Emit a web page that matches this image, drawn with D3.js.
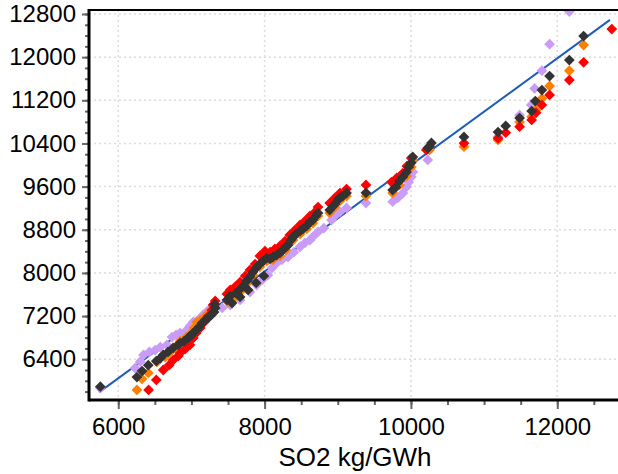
<!DOCTYPE html>
<html><head><meta charset="utf-8">
<script src="https://cdn.jsdelivr.net/npm/d3@7"></script>
<style>body{margin:0;background:#fff}svg{display:block}text{font-family:"Liberation Sans",Arial,sans-serif;fill:#000}</style>
</head><body><svg id="c" width="618" height="474"></svg>
<script>
const xTickLabels = [6000, 8000, 10000, 12000];
const yTickLabels = [6400, 7200, 8000, 8800, 9600, 10400, 11200, 12000, 12800];
const xTitle = "SO2 kg/GWh";
const fitLine = [[5740, 5790], [12720, 12690]];

const lavender = [[5755,5865],[6230,6235],[6300,6355],[6345,6480],[6425,6535],[6505,6570],[6575,6625],[6665,6665],[6735,6810],[6790,6850],[6845,6885],[6935,6940],[6980,7015],[7025,7090],[7120,7165],[7160,7220],[7210,7280],[7255,7330],
[7420,7350],[7530,7405],[7665,7500],[7800,7645],[7890,7775],[7965,7870],[8045,7960],[8100,8090],[8165,8185],[8235,8240],[8320,8295],[8400,8385],[8485,8485],[8550,8555],[8620,8610],[8660,8670],[8730,8760],[8810,8830],[8915,8980],[8975,9075],[9030,9130],[9120,9205],[9385,9295],[9750,9320],[9820,9390],[9890,9480],[9940,9595],[9970,9685],[10005,9785],[10025,9870],[10230,10095],
[11190,10525],[11485,10925],[11645,11115],[11690,11420],[11790,11750],[11895,12240],[12165,12845]];

const orange = [[6255,5830],[6325,6035],[6410,6145],[6530,6350],[6640,6440],[6710,6535],[6780,6625],[6845,6735],[6930,6810],[6980,6865],[7035,6980],[7075,7090],[7120,7125],[7175,7180],[7230,7255],[7280,7330],[7325,7405],
[7500,7460],[7570,7515],[7665,7645],[7755,7795],[7840,7960],[7935,8110],[8030,8220],[8115,8240],[8210,8315],[8290,8425],[8390,8610],[8485,8720],[8575,8815],[8660,8925],[8730,9055],[8890,9110],[8960,9220],[9030,9335],[9120,9425],[9385,9425],[9750,9480],[9845,9630],[9940,9795],[10005,9965],[10025,10095],[10255,10280],
[10725,10340],[11190,10465],[11485,10800],[11650,10895],[11710,11020],[11790,11235],[11895,11465],[12165,11750],[12360,12225]];

const red = [[6415,5830],[6520,6015],[6615,6200],[6695,6290],[6750,6385],[6820,6460],[6845,6515],[6915,6590],[6980,6665],[7025,6795],[7065,6885],[7120,6980],[7175,7090],[7230,7200],[7280,7310],[7295,7405],[7325,7480],
[7485,7610],[7530,7685],[7595,7740],[7665,7830],[7735,7945],[7800,8055],[7870,8165],[7935,8315],[8005,8405],[8075,8385],[8140,8445],[8210,8500],[8280,8590],[8345,8705],[8415,8795],[8485,8890],[8550,8960],[8620,9055],[8690,9130],[8730,9220],[8890,9295],[8960,9390],[9030,9480],[9120,9555],[9385,9630],[9735,9685],[9805,9760],[9890,9850],[9945,9980],[10005,10130],[10210,10280],
[10725,10405],[11190,10495],[11295,10600],[11485,10710],[11650,10835],[11710,10970],[11790,11115],[11895,11300],[12165,11575],[12360,11905],[12745,12520]];

const dark = [[5755,5890],[6255,6070],[6325,6180],[6410,6290],[6520,6365],[6575,6420],[6615,6480],[6680,6535],[6750,6610],[6820,6665],[6845,6700],[6900,6735],[6955,6795],[6980,6830],[7025,6885],[7065,6940],[7105,6995],[7145,7070],[7185,7125],[7230,7165],[7270,7220],[7310,7275],[7325,7350],[7320,7420],
[7485,7500],[7530,7570],[7555,7440],[7610,7625],[7665,7555],[7665,7700],[7705,7755],[7775,7685],[7755,7850],[7800,7925],[7885,7815],[7840,8015],[7885,8090],[7990,7945],[7935,8165],[7980,8220],[8030,8275],[8075,8260],[8115,8295],[8165,8330],[8210,8370],[8250,8425],[8290,8480],[8320,8515],[8360,8610],[8390,8665],[8430,8720],[8485,8775],[8525,8815],[8575,8870],[8620,8945],[8660,8980],[8700,9055],[8730,9110],[8890,9165],[8935,9240],[8960,9275],[9000,9350],[9030,9390],[9070,9425],[9120,9480],[9385,9485],[9750,9535],[9795,9590],[9845,9705],[9890,9780],[9940,9870],[9970,9965],[10005,10040],[10025,10150],[10230,10315],[10255,10350],[10280,10410],
[10725,10520],[11190,10610],[11295,10725],[11485,10870],[11650,11000],[11700,11185],[11790,11390],[11895,11650],[12165,11945],[12360,12390]];

const seriesList = [
  {name: "lavender", color: "#c99cf7", data: lavender},
  {name: "orange", color: "#ff8000", data: orange},
  {name: "red", color: "#ff0000", data: red},
  {name: "dark", color: "#333333", data: dark}
];

const L = 89, R = 618, T = 10, B = 400;
const svg = d3.select("#c");
const x = d3.scaleLinear().domain([5600, 12830]).range([L, R]);
const y = d3.scaleLinear().domain([5644, 12874]).range([B, T]);

const g = svg.append("g");
g.selectAll("line.gx").data(xTickLabels).join("line")
  .attr("x1", d => x(d)).attr("x2", d => x(d)).attr("y1", T).attr("y2", B)
  .attr("stroke", "#dcdcdc").attr("stroke-width", 1.5).attr("stroke-dasharray", "2,3");
g.selectAll("line.gy").data(yTickLabels).join("line")
  .attr("y1", d => y(d)).attr("y2", d => y(d)).attr("x1", L).attr("x2", R)
  .attr("stroke", "#dcdcdc").attr("stroke-width", 1.5).attr("stroke-dasharray", "2,3");

svg.append("defs").append("clipPath").attr("id", "clip")
  .append("rect").attr("x", L).attr("y", T).attr("width", R - L).attr("height", B - T);
const plot = svg.append("g").attr("clip-path", "url(#clip)");

plot.append("path").datum(fitLine)
  .attr("d", d3.line().x(d => x(d[0])).y(d => y(d[1])))
  .attr("stroke", "#1f5cba").attr("stroke-width", 2).attr("fill", "none");

const sym = d3.symbol(d3.symbolSquare, 58);
seriesList.forEach(s => {
  plot.append("g").selectAll("path").data(s.data).join("path")
    .attr("d", sym)
    .attr("transform", d => `translate(${x(d[0])},${y(d[1])}) rotate(45)`)
    .attr("fill", s.color);
});

const xMinor = d3.range(6000, 12830, 500);
const yMinor = d3.range(5800, 12874, 200);
const xAxis = svg.append("g").attr("transform", `translate(0,${B})`);
xAxis.call(d3.axisBottom(x).tickValues(xMinor).tickSize(5).tickFormat(""));
xAxis.append("g").call(d3.axisBottom(x).tickValues(xTickLabels).tickSize(9).tickPadding(9).tickFormat(d3.format("d")));
xAxis.selectAll(".domain").remove();
xAxis.selectAll("line").attr("stroke", "#666").attr("stroke-width", 2);
xAxis.selectAll("text").attr("font-size", 24).attr("fill", "#000");

const yAxis = svg.append("g").attr("transform", `translate(${L},0)`);
yAxis.call(d3.axisLeft(y).tickValues(yMinor).tickSize(4).tickFormat(""));
yAxis.append("g").call(d3.axisLeft(y).tickValues(yTickLabels).tickSize(7).tickPadding(6).tickFormat(d3.format("d")));
yAxis.selectAll(".domain").remove();
yAxis.selectAll("line").attr("stroke", "#666").attr("stroke-width", 2);
yAxis.selectAll("text").attr("font-size", 24).attr("fill", "#000");

svg.append("line").attr("x1", L).attr("x2", R).attr("y1", T).attr("y2", T).attr("stroke", "#000").attr("stroke-width", 2);
svg.append("line").attr("x1", L).attr("x2", R).attr("y1", B).attr("y2", B).attr("stroke", "#000").attr("stroke-width", 3);
svg.append("line").attr("x1", L).attr("x2", L).attr("y1", T - 1).attr("y2", B + 1.5).attr("stroke", "#000").attr("stroke-width", 3);

svg.append("text").attr("x", 355).attr("y", 466).attr("text-anchor", "middle")
  .attr("font-size", 26).text(xTitle);
</script></body></html>
